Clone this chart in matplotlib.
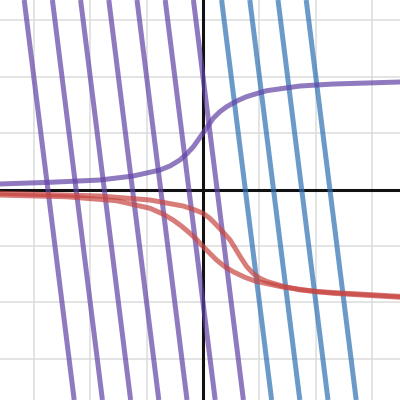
import matplotlib
matplotlib.use("Agg")
import matplotlib.pyplot as plt
import numpy as np

# ---- data ----
line_slope = -8.0
purple_line_intercepts = [-2.75, -2.25, -1.75, -1.25, -0.75, -0.25, 0.25]
blue_line_intercepts = [0.75, 1.25, 1.75, 2.25]

purple_curve_x = [-3.60, -2.71, -1.83, -1.24, -0.76, -0.58, -0.41, -0.29, -0.17,
                  0.0, 0.09, 0.18, 0.30, 0.42, 0.60, 0.77, 0.95, 1.13, 1.72, 2.30, 3.49]
purple_curve_y = [0.098, 0.128, 0.168, 0.239, 0.346, 0.42, 0.523, 0.63, 0.759,
                  1.00, 1.13, 1.262, 1.38, 1.468, 1.57, 1.645, 1.70, 1.752, 1.835, 1.87, 1.906]

red_a_x = [-3.60, -2.42, -1.53, -0.94, -0.72, -0.53, -0.38, -0.23, -0.11, 0.0,
           0.12, 0.24, 0.39, 0.54, 0.75, 0.95, 1.42, 2.02, 3.49]
red_a_y = [-0.098, -0.128, -0.199, -0.333, -0.43, -0.54, -0.65, -0.777, -0.89, -1.01,
           -1.13, -1.25, -1.37, -1.46, -1.56, -1.63, -1.73, -1.81, -1.895]

red_b_x = [-3.60, -1.83, -0.94, -0.35, -0.15, 0.0, 0.12, 0.24, 0.36, 0.48, 0.57,
           0.66, 0.77, 0.89, 1.00, 1.13, 1.40, 1.72, 2.31, 3.49]
red_b_y = [-0.067, -0.115, -0.186, -0.293, -0.36, -0.42, -0.51, -0.63, -0.76, -0.895, -1.04,
           -1.19, -1.36, -1.49, -1.57, -1.63, -1.71, -1.78, -1.84, -1.91]

x_limits = (-3.599, 3.493)
y_limits = (-3.732, 3.360)

PURPLE = "#6042a6"
BLUE = "#2d70b3"
RED = "#c74440"
ALPHA = 0.7
LW = 3.6

fig = plt.figure(figsize=(4, 4), dpi=100)
ax = fig.add_axes([0, 0, 1, 1])
ax.set_xlim(*x_limits)
ax.set_ylim(*y_limits)

# grid
for gx in range(-3, 4):
    if gx != 0:
        ax.axvline(gx, color="#dcdcdc", lw=1.1, zorder=0)
for gy in range(-3, 4):
    if gy != 0:
        ax.axhline(gy, color="#dcdcdc", lw=1.1, zorder=0)
ax.axvline(0, color="#111111", lw=2.2, zorder=1)
ax.axhline(0, color="#111111", lw=2.2, zorder=1)

for c in purple_line_intercepts:
    ax.axline((c, 0), slope=line_slope, color=PURPLE, alpha=ALPHA, lw=LW,
              solid_capstyle="butt", zorder=2)
for c in blue_line_intercepts:
    ax.axline((c, 0), slope=line_slope, color=BLUE, alpha=ALPHA, lw=LW,
              solid_capstyle="butt", zorder=2)

ax.plot(purple_curve_x, purple_curve_y, color=PURPLE, alpha=ALPHA, lw=LW,
        solid_joinstyle="round", zorder=3)
ax.plot(red_a_x, red_a_y, color=RED, alpha=ALPHA, lw=LW,
        solid_joinstyle="round", zorder=3)
ax.plot(red_b_x, red_b_y, color=RED, alpha=ALPHA, lw=LW,
        solid_joinstyle="round", zorder=3)

ax.set_xticks([])
ax.set_yticks([])
for s in ax.spines.values():
    s.set_visible(False)

fig.savefig("out.png", dpi=100)
